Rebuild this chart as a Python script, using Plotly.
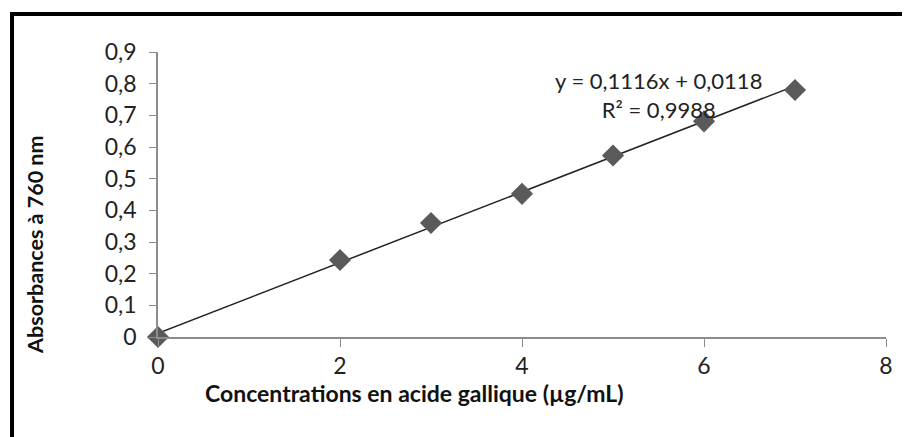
import plotly.graph_objects as go

# Calibration data (gallic acid standard curve)
concentrations = [0, 2, 3, 4, 5, 6, 7]
absorbances = [0.0, 0.243, 0.360, 0.452, 0.573, 0.681, 0.780]

# Linear trendline as reported on the chart
slope = 0.1116
intercept = 0.0118
r_squared = 0.9988

x_ticks = [0, 2, 4, 6, 8]
y_ticks = [0, 0.1, 0.2, 0.3, 0.4, 0.5, 0.6, 0.7, 0.8, 0.9]

FONT = "Lato"
AXIS_GREY = "#8c8c8c"
TEXT = "#222222"


def fr(v):
    # French decimal comma
    s = f"{v:.1f}".rstrip("0").rstrip(".") if v else "0"
    return s.replace(".", ",")


trend_x = [concentrations[0], concentrations[-1]]
trend_y = [slope * x + intercept for x in trend_x]

fig = go.Figure()

fig.add_trace(go.Scatter(
    x=trend_x,
    y=trend_y,
    mode="lines",
    line=dict(color=TEXT, width=1.5),
    hoverinfo="skip",
    cliponaxis=False,
))

fig.add_trace(go.Scatter(
    x=concentrations,
    y=absorbances,
    mode="markers",
    marker=dict(symbol="diamond", size=17, color="#5a5a5a"),
    cliponaxis=False,
))

# trendline label
fig.add_annotation(
    x=5.5, y=0.765, xref="x", yref="y",
    text=(f"y = {slope:.4f}x + {intercept:.4f}".replace(".", ",")
          + "<br>" + f"R² = {r_squared:.4f}".replace(".", ",")),
    showarrow=False,
    align="center",
    font=dict(family=FONT, size=22, color=TEXT),
)

# axis titles placed by hand
fig.add_annotation(
    x=0.353, y=-0.197, xref="paper", yref="paper",
    xanchor="center", yanchor="middle",
    text="<b>Concentrations en acide gallique (µg/mL)</b>",
    showarrow=False,
    font=dict(family=FONT, size=23, color="#111111"),
)
fig.add_annotation(
    x=-0.169, y=0.323, xref="paper", yref="paper",
    xanchor="center", yanchor="middle",
    text="<b>Absorbances à 760 nm</b>",
    textangle=-90,
    showarrow=False,
    font=dict(family=FONT, size=21.5, color="#111111"),
)

# Thick black frame around the whole chart (cropped on right / bottom)
fig.add_shape(
    type="rect", xref="paper", yref="paper",
    x0=-0.2005, x1=1.08, y0=-0.45, y1=1.1333,
    line=dict(color="black", width=4),
    layer="above",
)

fig.update_xaxes(
    range=[0, 8],
    tickvals=x_ticks,
    ticktext=[str(t) for t in x_ticks],
    showgrid=False,
    zeroline=False,
    showline=True,
    linecolor=AXIS_GREY,
    linewidth=1.5,
    ticks="outside",
    ticklen=8,
    tickcolor=AXIS_GREY,
    tickfont=dict(family=FONT, size=23, color=TEXT),
)

fig.update_yaxes(
    range=[0, 0.9],
    tickvals=y_ticks,
    ticktext=[fr(t) for t in y_ticks],
    showgrid=False,
    zeroline=False,
    showline=True,
    linecolor=AXIS_GREY,
    linewidth=1.5,
    ticks="outside",
    ticklen=7,
    tickcolor=AXIS_GREY,
    ticklabelstandoff=8,
    tickfont=dict(family=FONT, size=23, color=TEXT),
)

# page body adds an 8px offset, so the figure is sized 8px smaller
fig.update_layout(
    width=902,
    height=429,
    margin=dict(l=150, r=24, t=44, b=100),
    plot_bgcolor="white",
    paper_bgcolor="white",
    showlegend=False,
)

fig.write_html("out.html")
